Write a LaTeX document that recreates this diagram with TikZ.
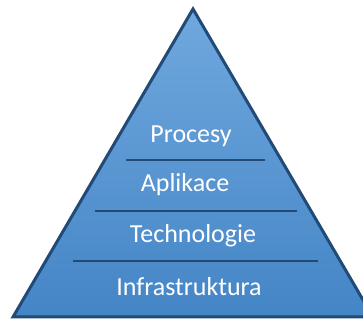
\documentclass[tikz,border=0pt]{standalone}
\usepackage{fontspec}
\setmainfont{Carlito}
\usetikzlibrary{positioning}
\definecolor{pyrtop}{RGB}{112,168,222}
\definecolor{pyrbot}{RGB}{68,133,198}
\definecolor{pyrline}{RGB}{34,74,118}
\begin{document}
\begin{tikzpicture}[x=1pt, y=1pt,
  layer/.style={text=white, font=\fontsize{26}{30}\selectfont, inner sep=0pt, anchor=base},
  sep/.style={pyrline, line width=2.5pt}]
\useasboundingbox (0,0) rectangle (363,320);
\begin{scope}
\clip (0,0) rectangle (363,320);
\draw[pyrline, line width=3pt, top color=pyrtop, bottom color=pyrbot]
  (193,311) -- (13,3) -- (373,3) -- cycle;
\end{scope}
\node[layer] (procesy) at (191,177) {Procesy};
\node[layer] (aplikace) at (185,128) {Aplikace};
\node[layer] (technologie) at (193,77) {Technologie};
\node[layer] (infra) at (189,24) {Infrastruktura};
\coordinate (s1l) at (126,160); \coordinate (s1r) at (265,160);
\coordinate (s2l) at (95,109);  \coordinate (s2r) at (297,109);
\coordinate (s3l) at (73,59);   \coordinate (s3r) at (318,59);
\draw[sep] (s1l) -- (s1r);
\draw[sep] (s2l) -- (s2r);
\draw[sep] (s3l) -- (s3r);
\end{tikzpicture}
\end{document}
